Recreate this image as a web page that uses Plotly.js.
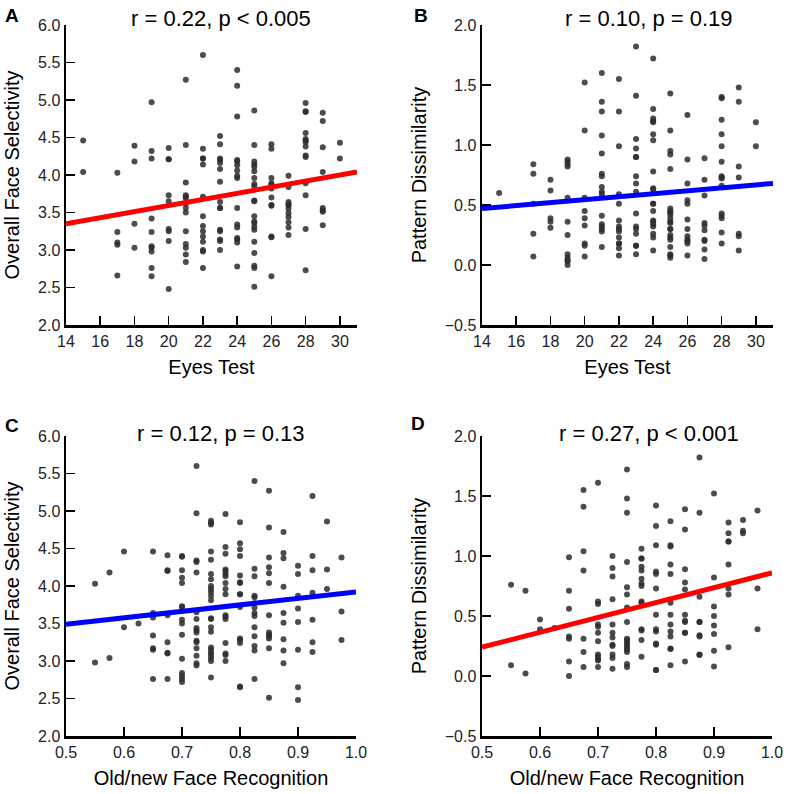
<!DOCTYPE html>
<html>
<head>
<meta charset="utf-8">
<script src="https://cdn.plot.ly/plotly-3.0.1.min.js"></script>
<style>
html,body{margin:0;padding:0;background:#fff;}
#chart{width:787px;height:794px;}
</style>
</head>
<body>
<div id="chart"></div>
<script>
// ---------- Panel A: Eyes Test vs Overall Face Selectivity ----------
const aEyes = [15,15,
  17,17,17,17,17,
  18,18,18,18,
  19,19,19,19,19,19,19,19,19,19,
  20,20,20,20,20,20,20,20,20,
  21,21,21,21,21,21,21,21,21,21,21,21,21,21,
  22,22,22,22,22,22,22,22,22,22,22,22,22,22,
  23,23,23,23,23,23,23,23,23,23,23,23,23,23,23,
  24,24,24,24,24,24,24,24,24,24,24,24,24,24,24,24,
  25,25,25,25,25,25,25,25,25,25,25,25,25,25,25,25,25,25,25,25,25,
  26,26,26,26,26,26,26,26,26,26,26,26,
  27,27,27,27,27,27,27,27,27,27,27,
  28,28,28,28,28,28,28,28,28,28,28,28,28,28,
  29,29,29,29,29,29,29,29,
  30,30];
const aSelectivity = [4.46,4.04,
  4.03,3.24,3.10,3.07,2.66,
  4.39,4.18,3.35,3.03,
  4.97,4.32,4.22,3.42,3.24,3.05,3.03,2.98,2.76,2.65,
  4.36,4.21,4.21,3.73,3.65,3.28,3.25,3.12,2.48,
  5.27,4.40,3.90,3.73,3.71,3.69,3.62,3.56,3.50,3.25,3.08,3.03,2.94,2.84,
  5.60,4.35,4.22,4.22,4.14,3.71,3.45,3.32,3.25,3.18,3.11,3.00,2.98,2.76,
  4.52,4.41,4.22,4.20,4.16,4.08,3.91,3.64,3.56,3.56,3.27,3.25,3.14,3.12,3.00,
  5.40,5.19,4.78,4.20,4.18,4.13,4.06,3.99,3.96,3.56,3.34,3.30,3.16,3.14,3.10,2.78,
  4.86,4.40,4.18,4.14,4.11,4.05,3.96,3.88,3.85,3.66,3.65,3.45,3.38,3.36,3.31,3.27,3.11,2.96,2.79,2.76,2.51,
  4.41,4.35,3.96,3.89,3.87,3.82,3.70,3.60,3.59,3.18,3.17,2.65,
  3.99,3.84,3.64,3.61,3.59,3.55,3.49,3.44,3.37,3.30,3.20,
  4.96,4.85,4.84,4.56,4.48,4.46,4.44,4.38,4.26,4.24,3.89,3.73,3.28,2.73,
  4.83,4.72,4.37,4.04,3.56,3.53,3.51,3.33,
  4.43,4.22];
const aFitX = [14, 31];
const aFitY = [3.35, 4.04];

// ---------- Panel B: Eyes Test vs Pattern Dissimilarity ----------
const bEyes = [15,
  17,17,17,17,17,
  18,18,18,18,18,
  19,19,19,19,19,19,19,19,19,19,19,19,
  20,20,20,20,20,20,20,20,20,
  21,21,21,21,21,21,21,21,21,21,21,21,21,21,21,21,
  22,22,22,22,22,22,22,22,22,22,22,22,22,22,
  23,23,23,23,23,23,23,23,23,23,23,23,23,23,23,23,
  24,24,24,24,24,24,24,24,24,24,24,24,24,24,24,24,24,24,24,24,
  25,25,25,25,25,25,25,25,25,25,25,25,25,25,25,25,25,25,25,25,25,
  26,26,26,26,26,26,26,26,26,26,26,26,
  27,27,27,27,27,27,27,27,27,27,
  28,28,28,28,28,28,28,28,28,28,28,28,28,28,28,
  29,29,29,29,29,29,29,
  30,30];
const bDissimilarity = [0.60,
  0.84,0.76,0.51,0.26,0.07,
  0.71,0.62,0.39,0.36,0.31,
  0.88,0.86,0.84,0.82,0.56,0.36,0.25,0.09,0.06,0.04,0.03,0.00,
  1.52,1.12,0.56,0.45,0.39,0.33,0.18,0.16,0.07,
  1.60,1.36,1.28,1.08,0.93,0.76,0.74,0.65,0.61,0.59,0.41,0.34,0.32,0.30,0.28,0.15,
  1.55,1.28,0.99,0.59,0.51,0.37,0.32,0.30,0.28,0.23,0.18,0.18,0.14,0.08,
  1.82,1.41,1.05,0.97,0.90,0.90,0.74,0.68,0.61,0.43,0.32,0.30,0.26,0.16,0.16,0.09,
  1.72,1.30,1.22,1.20,1.19,1.09,1.04,0.78,0.64,0.63,0.51,0.51,0.45,0.37,0.36,0.34,0.32,0.26,0.23,0.12,
  1.43,1.12,0.95,0.92,0.80,0.47,0.45,0.44,0.42,0.39,0.36,0.35,0.30,0.30,0.25,0.23,0.21,0.15,0.09,0.08,0.06,
  1.25,0.88,0.68,0.54,0.51,0.38,0.30,0.24,0.21,0.20,0.18,0.08,
  0.89,0.71,0.58,0.35,0.33,0.29,0.21,0.20,0.13,0.05,
  1.40,1.39,1.21,1.09,0.99,0.86,0.74,0.73,0.72,0.66,0.43,0.41,0.39,0.27,0.18,
  1.48,1.36,0.82,0.73,0.26,0.24,0.12,
  1.19,0.99];
const bFitX = [14, 31];
const bFitY = [0.47, 0.68];

// ---------- Panel C: Old/new Face Recognition vs Overall Face Selectivity ----------
const cRecognition = [0.55,0.55,
  0.575,0.575,
  0.6,0.6,
  0.625,
  0.65,0.65,0.65,0.65,0.65,0.65,0.65,
  0.675,0.675,0.675,0.675,0.675,0.675,0.675,0.675,
  0.7,0.7,0.7,0.7,0.7,0.7,0.7,0.7,0.7,0.7,0.7,0.7,0.7,0.7,0.7,
  0.725,0.725,0.725,0.725,0.725,0.725,0.725,0.725,0.725,0.725,0.725,0.725,0.725,0.725,0.725,0.725,
  0.75,0.75,0.75,0.75,0.75,0.75,0.75,0.75,0.75,0.75,0.75,0.75,0.75,0.75,0.75,0.75,0.75,0.75,0.75,0.75,0.75,0.75,0.75,
  0.775,0.775,0.775,0.775,0.775,0.775,0.775,0.775,0.775,0.775,0.775,0.775,0.775,0.775,0.775,0.775,0.775,
  0.8,0.8,0.8,0.8,0.8,0.8,0.8,0.8,0.8,0.8,0.8,0.8,0.8,0.8,0.8,
  0.825,0.825,0.825,0.825,0.825,0.825,0.825,0.825,0.825,0.825,0.825,0.825,0.825,0.825,
  0.85,0.85,0.85,0.85,0.85,0.85,0.85,0.85,0.85,0.85,0.85,0.85,0.85,
  0.875,0.875,0.875,0.875,0.875,0.875,0.875,0.875,0.875,
  0.9,0.9,0.9,0.9,0.9,0.9,0.9,0.9,
  0.925,0.925,0.925,0.925,0.925,0.925,0.925,
  0.95,0.95,0.95,
  0.975,0.975,0.975];
const cSelectivity = [4.03,2.98,
  4.18,3.04,
  4.46,3.45,
  3.50,
  4.46,3.64,3.58,3.34,3.17,3.15,2.76,
  4.41,4.21,4.20,3.61,3.25,3.11,3.10,2.76,
  4.40,4.39,4.21,4.11,4.04,3.73,3.72,3.55,3.50,3.35,3.03,2.84,2.80,2.76,2.72,
  5.60,4.97,4.34,4.32,4.18,3.65,3.56,3.44,3.41,3.38,3.27,3.25,3.17,3.07,2.97,2.94,
  4.87,4.84,4.82,4.46,4.35,4.16,4.09,4.00,3.96,3.92,3.87,3.81,3.57,3.56,3.45,3.39,3.18,3.15,3.11,3.08,3.04,3.00,2.78,
  4.96,4.52,4.43,4.22,4.20,4.16,4.13,4.04,3.96,3.89,3.61,3.59,3.56,3.24,3.10,3.08,3.00,
  4.85,4.57,4.49,4.40,4.14,4.05,4.04,3.89,3.89,3.72,3.30,3.28,3.24,2.66,2.65,
  5.40,4.23,4.13,3.87,3.85,3.77,3.71,3.64,3.60,3.45,3.33,3.20,3.14,2.76,
  5.27,4.78,4.38,4.25,4.17,4.04,3.61,3.38,3.35,3.33,3.30,3.17,2.51,
  4.72,4.44,4.37,3.99,3.64,3.51,3.29,3.14,2.97,
  4.27,4.16,3.87,3.70,3.52,3.15,2.65,2.48,
  5.20,4.40,4.21,3.91,3.55,3.25,3.12,
  4.86,4.22,3.96,
  4.38,3.66,3.28];
const cFitX = [0.5, 1.0];
const cFitY = [3.49, 3.92];

// ---------- Panel D: Old/new Face Recognition vs Pattern Dissimilarity ----------
const dRecognition = [0.55,0.55,
  0.575,0.575,
  0.6,0.6,
  0.625,
  0.65,0.65,0.65,0.65,0.65,0.65,0.65,
  0.675,0.675,0.675,0.675,0.675,0.675,0.675,
  0.7,0.7,0.7,0.7,0.7,0.7,0.7,0.7,0.7,0.7,0.7,0.7,
  0.725,0.725,0.725,0.725,0.725,0.725,0.725,0.725,0.725,0.725,0.725,0.725,
  0.75,0.75,0.75,0.75,0.75,0.75,0.75,0.75,0.75,0.75,0.75,0.75,0.75,0.75,0.75,0.75,0.75,
  0.775,0.775,0.775,0.775,0.775,0.775,0.775,0.775,0.775,0.775,0.775,0.775,0.775,0.775,
  0.8,0.8,0.8,0.8,0.8,0.8,0.8,0.8,0.8,0.8,0.8,0.8,0.8,
  0.825,0.825,0.825,0.825,0.825,0.825,0.825,0.825,0.825,0.825,0.825,0.825,0.825,
  0.85,0.85,0.85,0.85,0.85,0.85,0.85,0.85,0.85,0.85,0.85,
  0.875,0.875,0.875,0.875,0.875,0.875,0.875,0.875,0.875,
  0.9,0.9,0.9,0.9,0.9,0.9,0.9,0.9,
  0.925,0.925,0.925,0.925,0.925,0.925,0.925,0.925,
  0.95,0.95,0.95,
  0.975,0.975,0.975];
const dDissimilarity = [0.76,0.09,
  0.71,0.02,
  0.47,0.39,
  0.40,
  0.99,0.71,0.56,0.33,0.31,0.12,0.00,
  1.55,1.41,1.04,0.88,0.31,0.20,0.075,
  1.61,0.62,0.60,0.43,0.41,0.36,0.29,0.18,0.16,0.14,0.13,0.075,
  1.00,0.90,0.83,0.64,0.43,0.36,0.32,0.26,0.25,0.18,0.15,0.06,
  1.72,1.48,1.36,0.95,0.74,0.68,0.57,0.45,0.31,0.30,0.28,0.26,0.24,0.22,0.20,0.10,0.075,
  1.06,0.98,0.98,0.91,0.88,0.81,0.77,0.75,0.62,0.61,0.39,0.38,0.30,0.16,
  1.42,1.25,1.09,0.87,0.85,0.73,0.51,0.39,0.37,0.27,0.26,0.05,0.05,
  1.29,1.09,1.08,0.93,0.85,0.61,0.51,0.43,0.37,0.33,0.23,0.225,0.09,
  1.39,1.22,0.89,0.78,0.72,0.51,0.46,0.45,0.36,0.36,0.12,
  1.82,1.36,0.66,0.45,0.45,0.34,0.33,0.18,0.175,
  1.52,0.82,0.58,0.50,0.42,0.35,0.21,0.08,
  1.28,1.19,1.12,1.12,0.93,0.73,0.68,0.24,
  1.30,1.21,1.19,
  1.38,0.73,0.39];
const dFitX = [0.5, 1.0];
const dFitY = [0.24, 0.86];

// ---------- Text ----------
const panelLetters = ['A', 'B', 'C', 'D'];
const panelStats = ['r = 0.22, p < 0.005', 'r = 0.10, p = 0.19', 'r = 0.12, p = 0.13', 'r = 0.27, p < 0.001'];
const xTitles = ['Eyes Test', 'Eyes Test', 'Old/new Face Recognition', 'Old/new Face Recognition'];
const yTitles = ['Overall Face Selectivity', 'Pattern Dissimilarity', 'Overall Face Selectivity', 'Pattern Dissimilarity'];

// ---------- Build ----------
const FONT = 'Liberation Sans, Arial, sans-serif';
const W = 787, H = 794;
const dotStyle = {size: 6, color: 'rgba(45,45,45,0.85)'};
function scatter(x, y, ax) {
  return {x: x, y: y, mode: 'markers', type: 'scatter', marker: dotStyle,
          xaxis: 'x' + ax, yaxis: 'y' + ax, hoverinfo: 'x+y'};
}
function fit(x, y, ax, color) {
  return {x: x, y: y, mode: 'lines', type: 'scatter', line: {color: color, width: 5},
          xaxis: 'x' + ax, yaxis: 'y' + ax, hoverinfo: 'skip'};
}
const data = [
  scatter(aEyes, aSelectivity, ''), fit(aFitX, aFitY, '', '#ff0000'),
  scatter(bEyes, bDissimilarity, '2'), fit(bFitX, bFitY, '2', '#0000ff'),
  scatter(cRecognition, cSelectivity, '3'), fit(cFitX, cFitY, '3', '#0000ff'),
  scatter(dRecognition, dDissimilarity, '4'), fit(dFitX, dFitY, '4', '#ff0000')
];

// plot-area boxes in pixels [left, right, top, bottom]
const boxes = [[66, 357, 25, 325], [482, 773, 25, 325], [66, 356, 436, 736], [482, 772, 436, 736]];
function xdom(b) { return [b[0] / W, b[1] / W]; }
function ydom(b) { return [1 - b[3] / H, 1 - b[2] / H]; }

const tickFont = {family: FONT, size: 16, color: '#222'};
const titleFont = {family: FONT, size: 20, color: '#000'};
function xaxis(i, range, dtick, fmt) {
  return {domain: xdom(boxes[i]), range: range, dtick: dtick, tick0: range[0], tickformat: fmt,
    showline: true, linecolor: '#000', linewidth: 2.5, ticks: 'inside', ticklen: 9, tickwidth: 1.5,
    tickcolor: '#000', showgrid: false, zeroline: false, tickfont: tickFont, automargin: false,
    title: {text: xTitles[i], font: titleFont, standoff: 12}, fixedrange: true};
}
function yaxis(i, range) {
  return {domain: ydom(boxes[i]), range: range, dtick: 0.5, tick0: range[0], tickformat: '.1f',
    showline: true, linecolor: '#000', linewidth: 2.5, ticks: 'inside', ticklen: 9, tickwidth: 1.5,
    tickcolor: '#000', showgrid: false, zeroline: false, tickfont: tickFont, automargin: false,
    title: {text: yTitles[i], font: titleFont, standoff: 13}, fixedrange: true};
}

const annotations = [];
const letterPos = [[12, 16], [421, 16], [12, 425], [418, 423]];
const statPos = [[221, 18], [649, 18], [221, 433], [649, 433]];
for (let i = 0; i < 4; i++) {
  annotations.push({text: '<b>' + panelLetters[i] + '</b>', xref: 'paper', yref: 'paper',
    x: letterPos[i][0] / W, y: 1 - letterPos[i][1] / H, xanchor: 'center', yanchor: 'middle',
    showarrow: false, font: {family: FONT, size: 19, color: '#000'}});
  annotations.push({text: panelStats[i], xref: 'paper', yref: 'paper',
    x: statPos[i][0] / W, y: 1 - statPos[i][1] / H, xanchor: 'center', yanchor: 'middle',
    showarrow: false, font: {family: FONT, size: 22, color: '#000'}});
}

const layout = {
  width: W, height: H, margin: {l: 0, r: 0, t: 0, b: 0},
  paper_bgcolor: '#fff', plot_bgcolor: '#fff', showlegend: false,
  font: {family: FONT},
  xaxis: Object.assign(xaxis(0, [14, 31], 2, 'd'), {anchor: 'y'}),
  yaxis: Object.assign(yaxis(0, [2, 6]), {anchor: 'x'}),
  xaxis2: Object.assign(xaxis(1, [14, 31], 2, 'd'), {anchor: 'y2'}),
  yaxis2: Object.assign(yaxis(1, [-0.5, 2]), {anchor: 'x2'}),
  xaxis3: Object.assign(xaxis(2, [0.5, 1.0], 0.1, '.1f'), {anchor: 'y3'}),
  yaxis3: Object.assign(yaxis(2, [2, 6]), {anchor: 'x3'}),
  xaxis4: Object.assign(xaxis(3, [0.5, 1.0], 0.1, '.1f'), {anchor: 'y4'}),
  yaxis4: Object.assign(yaxis(3, [-0.5, 2]), {anchor: 'x4'}),
  annotations: annotations
};
Plotly.newPlot('chart', data, layout, {displayModeBar: false, staticPlot: true});
</script>
</body>
</html>
